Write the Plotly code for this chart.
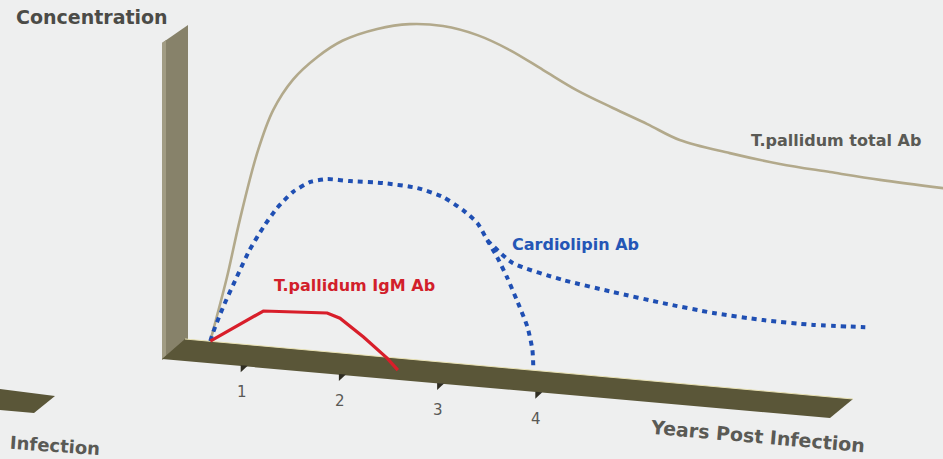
import plotly.graph_objects as go

# ---------------- data ----------------
# x: years post infection, y: concentration (arbitrary units, peak of total Ab ~100)
total_years = [0.66, 0.69, 0.83, 0.96, 1.14, 1.30, 1.50, 1.75, 2.01, 2.36, 2.69, 3.03,
               3.38, 3.71, 4.05, 4.39, 4.76, 5.11, 5.44, 5.95, 6.46, 6.97, 7.48, 8.13]
total_conc = [0, 3.4, 19.6, 37.0, 57.8, 70.8, 80.4, 87.9, 93.5, 97.9, 100.2, 100.5,
              98.7, 95.1, 90.0, 84.9, 80.5, 76.6, 72.7, 70.1, 68.2, 67.1, 66.1, 65.3]

cardio_years = [0.66, 0.69, 0.79, 0.93, 1.06, 1.20, 1.34, 1.50, 1.68, 1.85, 2.08, 2.42,
                2.77, 3.03, 3.23, 3.38, 3.48, 3.58, 3.68, 3.78, 3.89, 3.94, 3.95]
cardio_conc = [0, 2.8, 10.5, 19.9, 28.3, 35.5, 41.6, 46.8, 50.3, 51.6, 51.6, 51.9,
               51.3, 49.3, 46.0, 42.4, 37.6, 32.8, 27.1, 20.5, 12.6, 5.9, 0]

cardio_late_years = [3.48, 3.74, 4.25, 4.76, 5.27, 5.78, 6.29, 6.80, 7.33]
cardio_late_conc = [37.6, 31.4, 27.7, 25.4, 23.4, 21.8, 21.0, 20.9, 21.6]

igm_years = [0.66, 1.20, 1.85, 1.98, 2.22, 2.46, 2.57]
igm_conc = [0, 10.4, 11.5, 10.3, 5.3, -0.4, -3.7]

tick_years = [1, 2, 3, 4]
tick_labels = ["1", "2", "3", "4"]

# ---------------- oblique projection of the drawing ----------------
W, H = 943, 459
PX_PER_YEAR = 98.2
X_ORIGIN = 145.5            # pixel x of year 0
PX_PER_UNIT = 3.34          # pixels per concentration unit
BASE0 = 335.26              # pixel y of floor back edge at year 0
DROP = 8.74 / PX_PER_UNIT   # floor falls this many units per year (perspective tilt)

XMIN = -X_ORIGIN / PX_PER_YEAR
XMAX = (W - X_ORIGIN) / PX_PER_YEAR
YTOP = BASE0 / PX_PER_UNIT
YBOT = (BASE0 - H) / PX_PER_UNIT


def proj(years, conc):
    return [c - DROP * t for t, c in zip(years, conc)]


def px(x):
    return x / W


def py(y):
    return 1 - y / H


def path(points):
    return "M " + " L ".join(f"{px(a):.5f},{py(b):.5f}" for a, b in points) + " Z"


fig = go.Figure()

fig.add_trace(go.Scatter(x=total_years, y=proj(total_years, total_conc), mode="lines",
                         line=dict(color="#b2a98b", width=2.6, shape="spline", smoothing=1.0),
                         hoverinfo="skip", showlegend=False))
fig.add_trace(go.Scatter(x=cardio_years, y=proj(cardio_years, cardio_conc), mode="lines",
                         line=dict(color="#1f4fb3", width=4, dash="5px,5px", shape="spline",
                                   smoothing=0.6),
                         hoverinfo="skip", showlegend=False))
fig.add_trace(go.Scatter(x=cardio_late_years, y=proj(cardio_late_years, cardio_late_conc),
                         mode="lines",
                         line=dict(color="#1f4fb3", width=4, dash="5px,5px", shape="spline",
                                   smoothing=0.6),
                         hoverinfo="skip", showlegend=False))
fig.add_trace(go.Scatter(x=igm_years, y=proj(igm_years, igm_conc), mode="lines",
                         line=dict(color="#d81e2a", width=3.2),
                         hoverinfo="skip", showlegend=False))

# ---------------- decorative 3D axes (pixel space) ----------------
shapes = []
WALL = "#87826a"
FLOOR = "#5a5638"
# vertical wall
shapes.append(dict(type="path", xref="paper", yref="paper", layer="below",
                   path=path([(162, 43), (188, 25), (188, 340), (162, 360)]),
                   fillcolor=WALL, line=dict(width=0)))
shapes.append(dict(type="path", xref="paper", yref="paper", layer="below",
                   path=path([(162, 43), (166, 40), (166, 357), (162, 360)]),
                   fillcolor="#a19c84", line=dict(width=0)))
# floor slab
shapes.append(dict(type="path", xref="paper", yref="paper", layer="below",
                   path=path([(162, 359), (185, 339), (853, 399), (830, 418)]),
                   fillcolor=FLOOR, line=dict(width=0)))
shapes.append(dict(type="line", xref="paper", yref="paper", layer="below",
                   x0=px(185), y0=py(339), x1=px(853), y1=py(399),
                   line=dict(color="#e9e2b4", width=1)))
# left fragment from neighbouring panel
shapes.append(dict(type="path", xref="paper", yref="paper", layer="below",
                   path=path([(0, 389), (55, 396), (34, 413), (0, 410)]),
                   fillcolor=FLOOR, line=dict(width=0)))


def front_y(x):
    return 358 + 0.09 * (x - 163)


for t in tick_years:
    xt = X_ORIGIN + PX_PER_YEAR * t
    yt = front_y(xt)
    shapes.append(dict(type="path", xref="paper", yref="paper", layer="below",
                       path=path([(xt - 3, yt), (xt + 4, yt + 0.5), (xt - 3, yt + 7)]),
                       fillcolor="#2f2d22", line=dict(width=0)))

annotations = []
for t, lab in zip(tick_years, tick_labels):
    xt = X_ORIGIN + PX_PER_YEAR * t
    annotations.append(dict(x=t, xref="x", y=py(front_y(xt) + 27), yref="paper",
                            xanchor="center", yanchor="middle",
                            text=lab, showarrow=False, xshift=-2,
                            font=dict(family="DejaVu Sans", size=15, color="#595955")))

BOLD = "DejaVu Sans"
annotations += [
    dict(x=px(14), y=py(17), xref="paper", yref="paper", xanchor="left", yanchor="middle",
         text="Concentration", showarrow=False,
         font=dict(family=BOLD, size=19, weight="bold", color="#4b4b47")),
    dict(x=px(749), y=py(140), xref="paper", yref="paper", xanchor="left", yanchor="middle",
         text="T.pallidum total Ab", showarrow=False,
         font=dict(family=BOLD, size=16, weight="bold", color="#5a5a55")),
    dict(x=px(510), y=py(244), xref="paper", yref="paper", xanchor="left", yanchor="middle",
         text="Cardiolipin Ab", showarrow=False,
         font=dict(family=BOLD, size=16, weight="bold", color="#2456b6")),
    dict(x=px(272), y=py(285), xref="paper", yref="paper", xanchor="left", yanchor="middle",
         text="T.pallidum IgM Ab", showarrow=False,
         font=dict(family=BOLD, size=16, weight="bold", color="#d21f2b")),
    dict(x=px(757), y=py(436), xref="paper", yref="paper", xanchor="center", yanchor="middle",
         text="Years Post Infection", showarrow=False, textangle=5,
         font=dict(family=BOLD, size=19, weight="bold", color="#5a5a55")),
    dict(x=px(55), y=py(445), xref="paper", yref="paper", xanchor="center", yanchor="middle",
         text="Infection", showarrow=False, textangle=4,
         font=dict(family=BOLD, size=18, weight="bold", color="#5a5a55")),
]

fig.update_layout(
    width=W, height=H, autosize=False,
    margin=dict(l=0, r=0, t=0, b=0, pad=0),
    paper_bgcolor="#eeefef", plot_bgcolor="#eeefef",
    xaxis=dict(range=[XMIN, XMAX], visible=False, fixedrange=True),
    yaxis=dict(range=[YBOT, YTOP], visible=False, fixedrange=True),
    shapes=shapes, annotations=annotations, showlegend=False,
)

fig.write_html("out.html", config={"displayModeBar": False},
               post_script="document.body.style.margin='0';"
                           "document.body.style.background='#eeefef';")
